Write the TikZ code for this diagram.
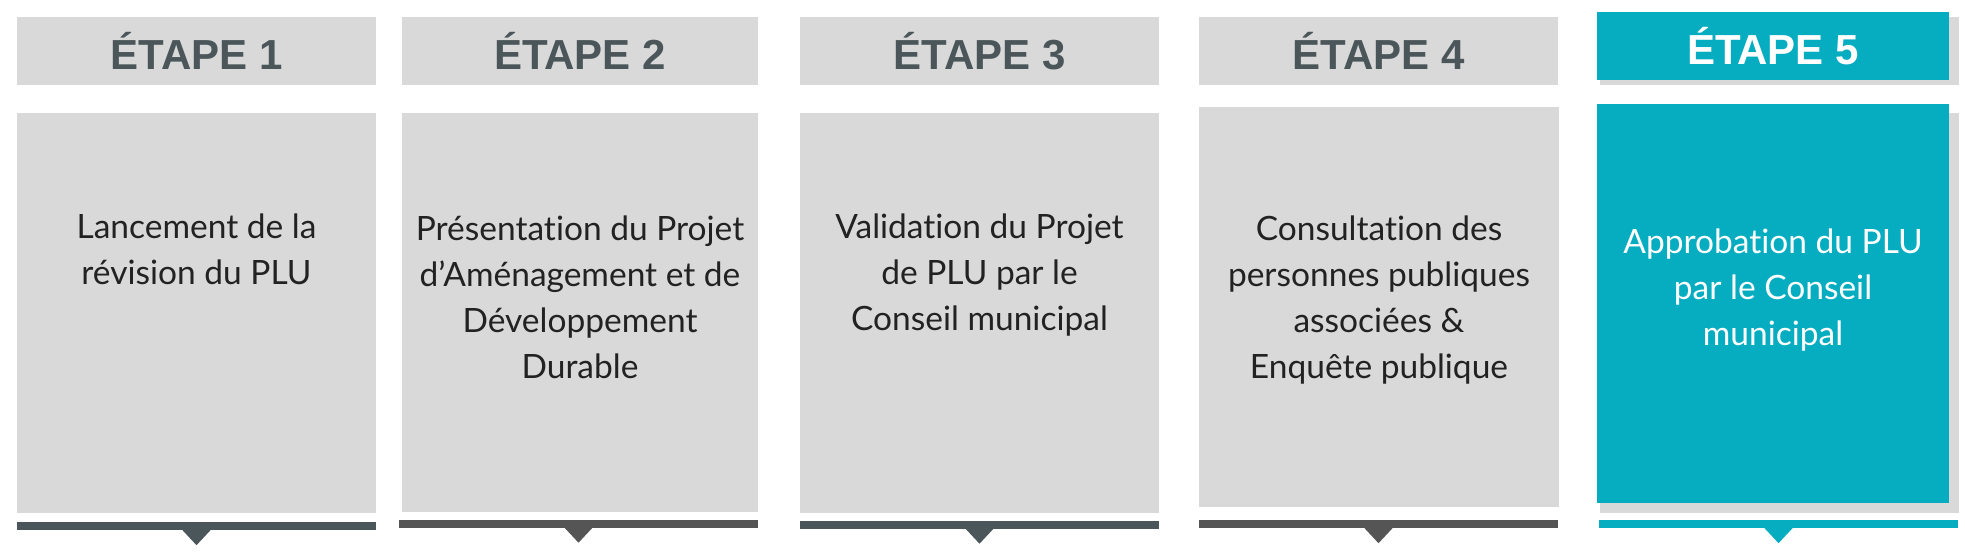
\documentclass[tikz,border=0pt]{standalone}
\usepackage{fontspec}
\setmainfont{Lato}[Ligatures=NoCommon]
\newfontfamily\etapefont{Liberation Sans}
\definecolor{etapegray}{HTML}{D9D9D9}
\definecolor{etapeslate}{HTML}{4A5659}
\definecolor{etapedark}{HTML}{555555}
\definecolor{etapeteal}{HTML}{06ADC1}
\definecolor{etapetext}{HTML}{222222}

\tikzset{
  headbox/.style={fill=etapegray, inner sep=0pt, minimum height=68pt,
    text=etapeslate, font=\etapefont\bfseries\fontsize{42}{50}\selectfont},
  bodybox/.style={fill=etapegray, inner sep=0pt, minimum height=400pt},
  bodytext/.style={anchor=north, inner sep=0pt, align=center, text=etapetext,
    font=\fontsize{33.5}{46}\selectfont},
  barbox/.style={inner sep=0pt, minimum height=8pt},
}

\begin{document}
\begin{tikzpicture}[x=1pt, y=-1pt]
  \useasboundingbox (0,0) rectangle (1965,555);

  % etape 1
  \node[headbox, minimum width=359pt] (head1) at (196.5,51) {ÉTAPE 1};
  \node[bodybox, minimum width=359pt] (body1) at (196.5,313) {};
  \node[bodytext] (text1) at (196.5,214) {Lancement de la\\révision du PLU};
  \node[barbox, fill=etapeslate, minimum width=359pt] (bar1) at (196.5,526) {};
  \fill[etapeslate] (bar1.south) ++(-14,0) -- ++(28,0) -- ++(-14,15) -- cycle;

  % etape 2
  \node[headbox, minimum width=356pt] (head2) at (580,51) {ÉTAPE 2};
  \node[bodybox, minimum width=356pt, minimum height=399pt] (body2) at (580,312.5) {};
  \node[bodytext] (text2) at (580,216) {Présentation du Projet\\d’Aménagement et de\\Développement\\Durable};
  \node[barbox, fill=etapedark, minimum width=359pt] (bar2) at (578.5,523.5) {};
  \fill[etapedark] (bar2.south) ++(-14,0) -- ++(28,0) -- ++(-14,15) -- cycle;

  % etape 3
  \node[headbox, minimum width=359pt] (head3) at (979.5,51) {ÉTAPE 3};
  \node[bodybox, minimum width=359pt] (body3) at (979.5,313) {};
  \node[bodytext] (text3) at (979.5,214) {Validation du Projet\\de PLU par le\\Conseil municipal};
  \node[barbox, fill=etapeslate, minimum width=359pt] (bar3) at (979.5,524.5) {};
  \fill[etapeslate] (bar3.south) ++(-14,0) -- ++(28,0) -- ++(-14,15) -- cycle;

  % etape 4
  \node[headbox, minimum width=359pt] (head4) at (1378.5,51) {ÉTAPE 4};
  \node[bodybox, minimum width=360pt] (body4) at (1379,307) {};
  \node[bodytext] (text4) at (1379,216) {Consultation des\\personnes publiques\\associées \&\\Enquête publique};
  \node[barbox, fill=etapedark, minimum width=359pt] (bar4) at (1378.5,524) {};
  \fill[etapedark] (bar4.south) ++(-14,0) -- ++(28,0) -- ++(-14,15) -- cycle;

  % etape 5, raised with a grey shadow
  \fill[etapegray] (1600,17) rectangle (1959,85);
  \fill[etapegray] (1600,113) rectangle (1959,513);
  \node[headbox, fill=etapeteal, text=white, minimum width=352pt] (head5) at (1773,46) {ÉTAPE 5};
  \node[bodybox, fill=etapeteal, minimum width=352pt, minimum height=399pt] (body5) at (1773,303.5) {};
  \node[bodytext, text=white] (text5) at (1773,229) {Approbation du PLU\\par le Conseil\\municipal};
  \node[barbox, fill=etapeteal, minimum width=359pt] (bar5) at (1778.5,524) {};
  \fill[etapeteal] (bar5.south) ++(-14,0) -- ++(28,0) -- ++(-14,15) -- cycle;
\end{tikzpicture}
\end{document}
